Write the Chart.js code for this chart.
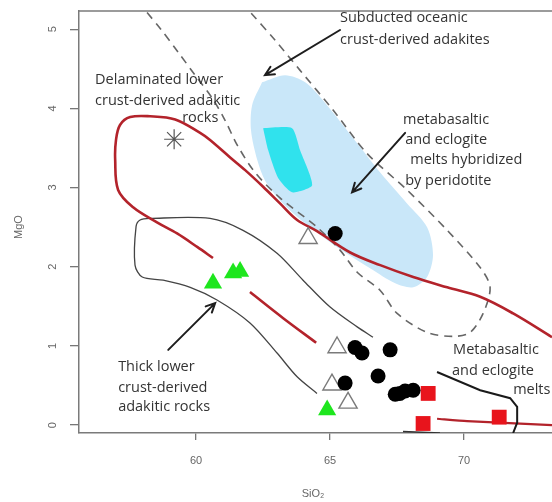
<!DOCTYPE html>
<html>
<head>
<meta charset="utf-8">
<script src="https://cdn.jsdelivr.net/npm/chart.js@4.4.1/dist/chart.umd.min.js"></script>
<style>
  html, body { margin: 0; padding: 0; background: #ffffff; }
  #wrap { width: 552px; height: 502px; }
</style>
</head>
<body>
<div id="wrap"><canvas id="c" width="552" height="502"></canvas></div>
<script>
// ---------- tick labels ----------
const xTicks = [60, 65, 70];
const yTicks = [0, 1, 2, 3, 4, 5];

// ---------- field outlines (SiO2, MgO) ----------
const redUpper = [[73.28,1.11],[71.83,1.41],[70.60,1.62],[69.37,1.74],[68.10,1.87],[66.87,2.02],[65.75,2.18],[64.51,2.45],[63.77,2.59],[63.13,2.80],[62.50,3.01],[61.83,3.22],[61.27,3.38],[60.52,3.60],[60.15,3.69],[59.22,3.86],[58.28,3.90],[57.54,3.89],[57.16,3.79],[57.01,3.60],[56.98,3.35],[57.09,2.97],[57.65,2.75],[58.54,2.56],[59.29,2.42],[60.04,2.25],[60.63,2.11]];
const redMid = [[62.01,1.68],[63.25,1.35],[64.48,1.04]];
const redLow = [[68.99,0.08],[70.11,0.05],[73.28,0.00]];

const thickField = [[66.60,1.11],[66.01,1.24],[65.00,1.49],[63.99,1.83],[63.02,2.17],[61.75,2.46],[60.52,2.61],[58.28,2.61],[57.91,2.59],[57.76,2.51],[57.72,2.02],[57.99,1.87],[58.77,1.83],[59.78,1.74],[60.78,1.58],[62.01,1.29],[63.02,0.91],[63.77,0.61],[64.51,0.40]];
const meltsLine = [[68.99,0.67],[70.60,0.44],[71.72,0.34],[71.98,0.23],[71.98,0.03],[71.83,-0.10]];
const baseLine = [[67.72,-0.08],[69.10,-0.10]];

const oceanicField = [[58.17,5.21],[58.66,5.01],[59.33,4.71],[59.96,4.42],[60.60,4.13],[61.08,3.85],[61.53,3.54],[62.20,3.19],[63.13,2.87],[64.51,2.50],[65.37,2.21],[66.01,1.93],[66.87,1.70],[67.50,1.41],[68.62,1.17],[69.59,1.12],[70.22,1.17],[70.71,1.41],[70.97,1.74],[70.60,1.99],[69.37,2.46],[67.87,2.97],[66.38,3.43],[65.11,3.98],[63.88,4.48],[62.95,4.86],[62.01,5.22]];

const hybridField = [[62.46,4.33],[63.32,4.42],[64.07,4.33],[64.74,4.10],[66.01,3.56],[66.87,3.19],[67.87,2.80],[68.62,2.50],[68.84,2.15],[68.62,1.87],[68.10,1.74],[67.43,1.79],[66.49,1.98],[65.56,2.18],[65.00,2.31],[64.37,2.47],[63.77,2.63],[63.13,2.84],[62.57,3.09],[62.28,3.35],[62.05,3.72],[62.09,4.04],[62.46,4.33]];
const cyanPatch = [[62.50,3.75],[63.58,3.75],[63.88,3.47],[64.33,3.03],[63.58,2.94],[63.06,3.12],[62.69,3.47],[62.50,3.75]];

// ---------- samples ----------
const asterisk = [[59.18,3.61]];
const greenTri = [[60.63,1.79],[61.38,1.92],[61.64,1.94],[64.89,0.19]];
const openTri = [[64.18,2.36],[65.26,0.98],[65.07,0.51],[65.67,0.28]];
const blackDots = [[65.19,2.42],[65.93,0.98],[66.19,0.91],[67.24,0.95],[65.56,0.53],[66.79,0.62],[67.43,0.39],[67.60,0.40],[67.80,0.43],[68.10,0.44]];
const redSq = [[68.66,0.40],[68.47,0.02],[71.31,0.10]];

// ---------- annotations ----------
const labels = [
  {t:'Subducted oceanic', x:65.37, y:5.14},
  {t:'crust-derived adakites', x:65.37, y:4.87},
  {t:'Delaminated lower', x:56.23, y:4.36},
  {t:'crust-derived adakitic', x:56.23, y:4.10},
  {t:'rocks', x:59.48, y:3.88},
  {t:'metabasaltic', x:67.72, y:3.85},
  {t:'and eclogite', x:67.80, y:3.60},
  {t:'melts hybridized', x:67.99, y:3.35},
  {t:'by peridotite', x:67.80, y:3.09},
  {t:'Thick lower', x:57.09, y:0.73},
  {t:'crust-derived', x:57.09, y:0.47},
  {t:'adakitic rocks', x:57.09, y:0.23},
  {t:'Metabasaltic', x:69.59, y:0.95},
  {t:'and eclogite', x:69.55, y:0.69},
  {t:'melts', x:71.83, y:0.44}
];
const arrows = [
  {from:[65.37,4.99], to:[62.57,4.42]},
  {from:[67.80,3.69], to:[65.82,2.94]},
  {from:[58.96,0.95], to:[60.71,1.54]}
];

const pts = a => a.map(([x, y]) => ({x, y}));

const overlay = {
  id: 'overlay',
  afterDraw(chart) {
    const {ctx, chartArea: a, scales: {x, y}} = chart;
    ctx.save();
    // top frame
    ctx.strokeStyle = '#7a7a7a'; ctx.lineWidth = 1.5;
    ctx.beginPath(); ctx.moveTo(a.left, a.top); ctx.lineTo(a.right, a.top); ctx.stroke();

    // tick labels
    ctx.fillStyle = '#666'; ctx.font = '11px "Liberation Sans", Arial, sans-serif';
    ctx.textAlign = 'center'; ctx.textBaseline = 'middle';
    yTicks.forEach(v => {
      ctx.save(); ctx.translate(53, y.getPixelForValue(v)); ctx.rotate(-Math.PI / 2);
      ctx.fillText(String(v), 0, 0); ctx.restore();
    });
    xTicks.forEach(v => ctx.fillText(String(v), x.getPixelForValue(v), 461));
    // axis titles
    ctx.fillText('SiO\u2082', 313, 494);
    ctx.save(); ctx.translate(19, 227); ctx.rotate(-Math.PI / 2); ctx.fillText('MgO', 0, 0); ctx.restore();

    // annotations
    ctx.fillStyle = '#333'; ctx.font = '14.5px "Open Sans", sans-serif';
    ctx.textBaseline = 'middle'; ctx.textAlign = 'left';
    labels.forEach(l => ctx.fillText(l.t, x.getPixelForValue(l.x), y.getPixelForValue(l.y)));

    // arrows
    ctx.strokeStyle = '#1e1e1e'; ctx.lineWidth = 2; ctx.lineCap = 'round';
    arrows.forEach(ar => {
      const x0 = x.getPixelForValue(ar.from[0]), y0 = y.getPixelForValue(ar.from[1]);
      const x1 = x.getPixelForValue(ar.to[0]), y1 = y.getPixelForValue(ar.to[1]);
      const ang = Math.atan2(y1 - y0, x1 - x0), h = 10;
      ctx.beginPath(); ctx.moveTo(x0, y0); ctx.lineTo(x1, y1);
      ctx.moveTo(x1 - h * Math.cos(ang - 0.45), y1 - h * Math.sin(ang - 0.45));
      ctx.lineTo(x1, y1);
      ctx.lineTo(x1 - h * Math.cos(ang + 0.45), y1 - h * Math.sin(ang + 0.45));
      ctx.stroke();
    });
    ctx.restore();
  }
};

const lineDs = (data, color, width, extra) => Object.assign({
  data: pts(data), showLine: true, borderColor: color, borderWidth: width,
  pointRadius: 0, pointHoverRadius: 0, tension: 0.35, fill: false
}, extra || {});

new Chart(document.getElementById('c'), {
  type: 'scatter',
  data: {
    datasets: [
      {data: pts(redSq), pointStyle: 'rect', pointRadius: 10.5, backgroundColor: '#e8141c', borderColor: '#e8141c', borderWidth: 0, order: 1},
      {data: pts(blackDots), pointStyle: 'circle', pointRadius: 7.5, backgroundColor: '#000', borderColor: '#000', borderWidth: 0, order: 2},
      {data: pts(greenTri), pointStyle: 'triangle', pointRadius: 10.5, backgroundColor: '#1ee61e', borderColor: '#1ee61e', borderWidth: 0, order: 3},
      {data: pts(openTri), pointStyle: 'triangle', pointRadius: 10.5, backgroundColor: '#fff', borderColor: '#7a7a7a', borderWidth: 1.4, order: 4},
      {data: pts(asterisk), pointStyle: 'star', pointRadius: 10, backgroundColor: '#555', borderColor: '#555', borderWidth: 1.2, order: 5},
      lineDs(meltsLine, '#1a1a1a', 2, {tension: 0, order: 6}),
      lineDs(baseLine, '#333', 1.5, {tension: 0, order: 6}),
      lineDs(redUpper, '#b3232b', 2.6, {order: 7}),
      lineDs(redMid, '#b3232b', 2.6, {order: 7}),
      lineDs(redLow, '#b3232b', 2.2, {tension: 0.2, order: 7}),
      lineDs(thickField, '#444', 1.3, {tension: 0.3, order: 8}),
      lineDs(oceanicField, '#666', 1.6, {borderDash: [8, 6], tension: 0.3, order: 9}),
      lineDs(cyanPatch, 'rgba(0,0,0,0)', 0, {fill: 'shape', backgroundColor: 'rgba(40,226,236,0.95)', tension: 0.2, order: 10}),
      lineDs(hybridField, 'rgba(0,0,0,0)', 0, {fill: 'shape', backgroundColor: '#c9e7f9', tension: 0.3, order: 11})
    ]
  },
  options: {
    responsive: false, animation: false, devicePixelRatio: 1,
    layout: {autoPadding: false, padding: {top: 11, left: 0, right: 0, bottom: 0}},
    plugins: {legend: {display: false}, tooltip: {enabled: false}},
    events: [],
    scales: {
      x: {
        type: 'linear', min: 55.63, max: 73.28,
        afterBuildTicks: s => { s.ticks = xTicks.map(v => ({value: v})); },
        afterFit: s => { s.height = 69; },
        ticks: {display: false},
        grid: {display: true, drawOnChartArea: false, drawTicks: true, tickLength: 7, color: '#777', lineWidth: 1.3},
        border: {display: true, color: '#7a7a7a', width: 1.5}
      },
      y: {
        type: 'linear', min: -0.1, max: 5.23,
        afterBuildTicks: s => { s.ticks = yTicks.map(v => ({value: v})); },
        afterFit: s => { s.width = 79; },
        ticks: {display: false},
        grid: {display: true, drawOnChartArea: false, drawTicks: true, tickLength: 9, color: '#777', lineWidth: 1.3},
        border: {display: true, color: '#7a7a7a', width: 1.5}
      }
    }
  },
  plugins: [overlay]
});
</script>
</body>
</html>
